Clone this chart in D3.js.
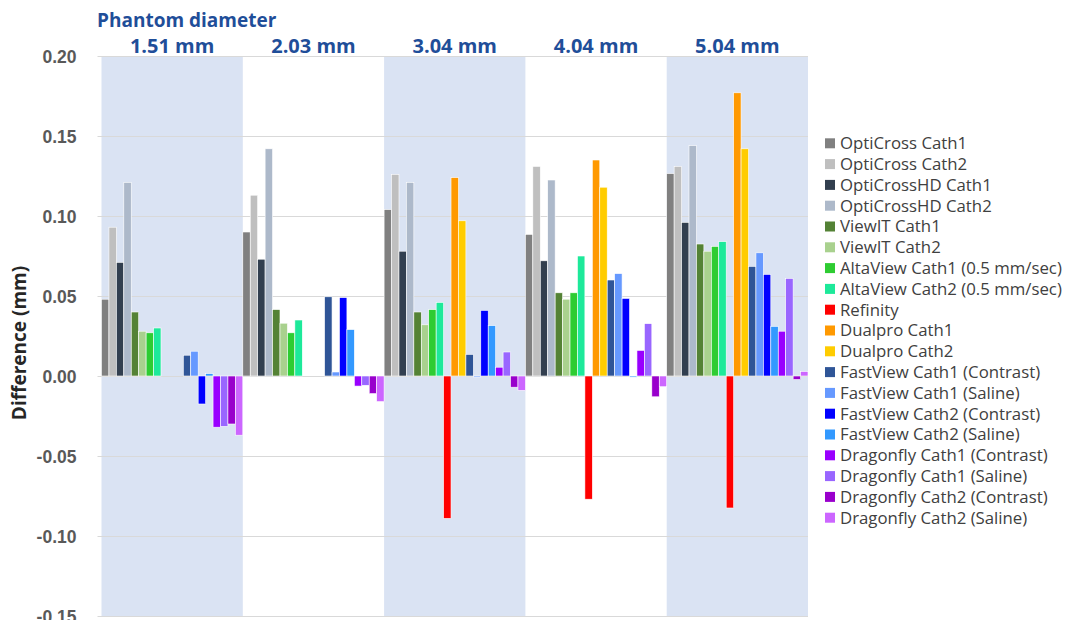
<!DOCTYPE html>
<html>
<head>
<meta charset="utf-8">
<script src="https://cdn.jsdelivr.net/npm/d3@7"></script>
<style>
  body { margin: 0; background: #fff; }
  svg { display: block; font-family: "Open Sans", sans-serif; }
</style>
</head>
<body>
<svg id="chart" width="1067" height="620"></svg>
<script>
const groups = ["1.51 mm", "2.03 mm", "3.04 mm", "4.04 mm", "5.04 mm"];
const series = [
  "OptiCross Cath1", "OptiCross Cath2", "OptiCrossHD Cath1", "OptiCrossHD Cath2",
  "ViewIT Cath1", "ViewIT Cath2", "AltaView Cath1 (0.5 mm/sec)", "AltaView Cath2 (0.5 mm/sec)",
  "Refinity", "Dualpro Cath1", "Dualpro Cath2",
  "FastView Cath1 (Contrast)", "FastView Cath1 (Saline)", "FastView Cath2 (Contrast)", "FastView Cath2 (Saline)",
  "Dragonfly Cath1 (Contrast)", "Dragonfly Cath1 (Saline)", "Dragonfly Cath2 (Contrast)", "Dragonfly Cath2 (Saline)"
];
const colors = [
  "#808080", "#bfbfbf", "#323f4f", "#adb9ca",
  "#548235", "#a9d18e", "#2ecc32", "#1de99a",
  "#ff0000", "#ff9900", "#ffcc00",
  "#2f5597", "#6699ff", "#0000ff", "#3399ff",
  "#9900ff", "#9966ff", "#9900cc", "#cc66ff"
];
// values per series, one per phantom diameter (null = not measured)
const optiCross1   = [0.048, 0.090, 0.104, 0.0885, 0.1265];
const optiCross2   = [0.093, 0.113, 0.126, 0.131, 0.131];
const optiCrossHD1 = [0.071, 0.073, 0.078, 0.072, 0.096];
const optiCrossHD2 = [0.121, 0.142, 0.121, 0.1225, 0.144];
const viewIT1      = [0.040, 0.0415, 0.040, 0.052, 0.0825];
const viewIT2      = [0.028, 0.033, 0.032, 0.048, 0.078];
const altaView1    = [0.027, 0.027, 0.0415, 0.052, 0.081];
const altaView2    = [0.030, 0.035, 0.046, 0.075, 0.084];
const refinity     = [null, null, -0.089, -0.077, -0.0825];
const dualpro1     = [null, null, 0.124, 0.135, 0.177];
const dualpro2     = [null, null, 0.097, 0.118, 0.142];
const fastView1C   = [0.013, 0.0495, 0.0135, 0.060, 0.0685];
const fastView1S   = [0.0155, 0.0025, -0.0007, 0.064, 0.077];
const fastView2C   = [-0.0175, 0.049, 0.041, 0.0485, 0.0635];
const fastView2S   = [0.0015, 0.029, 0.0315, -0.0007, 0.031];
const dragon1C     = [-0.032, -0.0063, 0.0055, 0.016, 0.028];
const dragon1S     = [-0.0315, -0.0058, 0.015, 0.0327, 0.061];
const dragon2C     = [-0.030, -0.011, -0.007, -0.013, -0.0022];
const dragon2S     = [-0.037, -0.016, -0.009, -0.0067, 0.0028];
const seriesValues = [optiCross1, optiCross2, optiCrossHD1, optiCrossHD2, viewIT1, viewIT2,
  altaView1, altaView2, refinity, dualpro1, dualpro2, fastView1C, fastView1S, fastView2C,
  fastView2S, dragon1C, dragon1S, dragon2C, dragon2S];
const yTicks = [0.20, 0.15, 0.10, 0.05, 0.00, -0.05, -0.10, -0.15];

const svg = d3.select("#chart");
const plotL = 101.5, plotR = 808, plotT = 56, plotB = 616;

const x0 = d3.scaleBand().domain(groups).range([plotL, plotR]).padding(0);
const x1 = d3.scaleBand().domain(series).range([0, x0.bandwidth()]).paddingInner(0).paddingOuter(0);
const y = d3.scaleLinear().domain([-0.15, 0.20]).range([plotB, plotT]);

// shaded bands
svg.append("g").selectAll("rect")
  .data(groups.filter((g, i) => i % 2 === 0))
  .join("rect")
  .attr("x", d => x0(d)).attr("y", plotT)
  .attr("width", x0.bandwidth()).attr("height", plotB - plotT)
  .attr("fill", "#dae3f3");

// gridlines
const fmt = d3.format(".2f");
const yAxis = d3.axisLeft(y).tickValues(yTicks).tickSize(-(plotR - plotL + 4))
  .tickFormat(d => fmt(d).replace("\u2212", "-"));
const ga = svg.append("g").attr("transform", `translate(${plotL - 4},0)`).call(yAxis);
ga.select(".domain").remove();
ga.selectAll(".tick line").attr("stroke", "#d9d9d9").attr("stroke-width", 1);
ga.selectAll(".tick text")
  .attr("x", -21).attr("dy", "0.36em")
  .attr("fill", "#595959").attr("font-size", 17.5).attr("font-weight", "bold");

// bars
const data = [];
groups.forEach((g, gi) => series.forEach((s, si) => {
  const v = seriesValues[si][gi];
  if (v !== null) data.push({ g, s, v, c: colors[si] });
}));
svg.append("g").selectAll("rect")
  .data(data)
  .join("rect")
  .attr("x", d => x0(d.g) + x1(d.s))
  .attr("width", x1.bandwidth())
  .attr("y", d => y(Math.max(0, d.v)))
  .attr("height", d => Math.abs(y(d.v) - y(0)))
  .attr("fill", d => d.c)
  .attr("stroke", "#ffffff").attr("stroke-width", 0.6);

// category labels
svg.append("g").selectAll("text")
  .data(groups)
  .join("text")
  .attr("x", d => x0(d) + x0.bandwidth() / 2)
  .attr("y", 53)
  .attr("text-anchor", "middle")
  .attr("font-size", 20).attr("font-weight", "bold").attr("fill", "#1f4e99")
  .text(d => d);

svg.append("text")
  .attr("x", 97).attr("y", 27)
  .attr("font-size", 19).attr("font-weight", "bold").attr("fill", "#1f4e99")
  .text("Phantom diameter");

// y title
svg.append("text")
  .attr("transform", "translate(26,343) rotate(-90)")
  .attr("text-anchor", "middle")
  .attr("font-size", 19).attr("font-weight", "bold").attr("fill", "#262626")
  .text("Difference (mm)");

// legend
const lg = svg.append("g").selectAll("g")
  .data(series.map((s, i) => ({ s, c: colors[i] })))
  .join("g")
  .attr("transform", (d, i) => `translate(825,${143.3 + i * 20.8})`);
lg.append("rect").attr("x", 0).attr("y", -5).attr("width", 10).attr("height", 10).attr("fill", d => d.c);
lg.append("text").attr("x", 15).attr("dy", "0.35em")
  .attr("font-size", 16.8).attr("fill", "#404040").text(d => d.s);
</script>
</body>
</html>
